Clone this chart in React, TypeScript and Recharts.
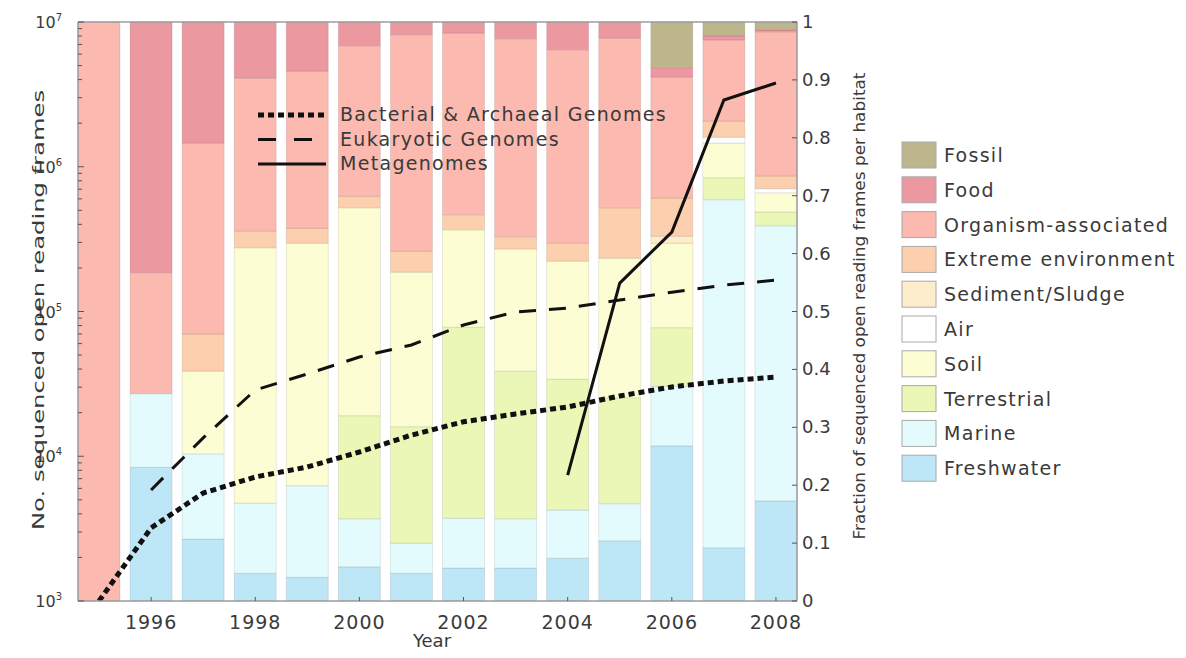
import { ComposedChart, Bar, Line, XAxis, YAxis, ReferenceLine } from 'recharts'

// ── Data ───────────────────────────────────────────────────────────────────

const YEARS = [1995, 1996, 1997, 1998, 1999, 2000, 2001, 2002, 2003, 2004, 2005, 2006, 2007, 2008]

// fraction of sequenced ORFs per habitat (stacked bottom → top)
const FRESHWATER = [0, 0.231, 0.107, 0.048, 0.041, 0.059, 0.048, 0.057, 0.057, 0.074, 0.104, 0.268, 0.092, 0.173]
const MARINE = [0, 0.127, 0.147, 0.121, 0.158, 0.083, 0.052, 0.086, 0.085, 0.083, 0.064, 0.103, 0.601, 0.475]
const TERRESTRIAL = [0, 0, 0, 0, 0, 0.178, 0.201, 0.33, 0.255, 0.226, 0.183, 0.101, 0.038, 0.024]
const SOIL = [0, 0, 0.143, 0.441, 0.419, 0.359, 0.267, 0.168, 0.211, 0.204, 0.241, 0.146, 0.06, 0.033]
const AIR = [0, 0, 0, 0, 0, 0, 0, 0, 0, 0, 0, 0, 0.01, 0.007]
const SEDIMENT = [0, 0, 0, 0, 0, 0, 0, 0, 0, 0, 0, 0.012, 0, 0]
const EXTREME = [0, 0, 0.064, 0.029, 0.026, 0.02, 0.036, 0.026, 0.021, 0.031, 0.087, 0.066, 0.028, 0.022]
const ORGANISM = [1, 0.209, 0.33, 0.264, 0.271, 0.26, 0.374, 0.314, 0.342, 0.334, 0.293, 0.209, 0.14, 0.249]
const FOOD = [0, 0.433, 0.209, 0.097, 0.085, 0.041, 0.022, 0.019, 0.029, 0.048, 0.028, 0.016, 0.007, 0.003]
const FOSSIL = [0, 0, 0, 0, 0, 0, 0, 0, 0, 0, 0, 0.079, 0.024, 0.014]

// number of sequenced ORFs (log scale)
const BACTERIAL = [1000, 3200, 5570, 7190, 8430, 10700, 14000, 17300, 19600, 21900, 26100, 30100, 33100, 35200]
const EUKARYOTIC = [null, 5850, 13400, 28700, 37000, 48500, 58700, 80700, 99300, 105700, 120000, 136000, 152000, 165000]
const METAGENOMES = [null, null, null, null, null, null, null, null, null, 7410, 157000, 354000, 2890000, 3790000]

const HABITATS = [
  { name: 'Freshwater', values: FRESHWATER },
  { name: 'Marine', values: MARINE },
  { name: 'Terrestrial', values: TERRESTRIAL },
  { name: 'Soil', values: SOIL },
  { name: 'Air', values: AIR },
  { name: 'Sediment/Sludge', values: SEDIMENT },
  { name: 'Extreme environment', values: EXTREME },
  { name: 'Organism-associated', values: ORGANISM },
  { name: 'Food', values: FOOD },
  { name: 'Fossil', values: FOSSIL },
]

const SERIES = [
  { key: 'bacterial', name: 'Bacterial & Archaeal Genomes', values: BACTERIAL },
  { key: 'eukaryotic', name: 'Eukaryotic Genomes', values: EUKARYOTIC },
  { key: 'metagenomes', name: 'Metagenomes', values: METAGENOMES },
]

const FRAC_TICKS = [0, 0.1, 0.2, 0.3, 0.4, 0.5, 0.6, 0.7, 0.8, 0.9, 1]
const COUNT_TICKS = [3, 4, 5, 6].flatMap(e => [1, 2, 3, 4, 5, 6, 7, 8, 9].map(m => m * 10 ** e)).concat([1e7])

// ── Styles ─────────────────────────────────────────────────────────────────

const COLORS: Record<string, string> = {
  Fossil: '#bdb68d',
  Food: '#eb98a0',
  'Organism-associated': '#fbb9b0',
  'Extreme environment': '#fcd0ae',
  'Sediment/Sludge': '#fdedcc',
  Air: '#ffffff',
  Soil: '#fdfdd3',
  Terrestrial: '#eaf7b6',
  Marine: '#e3fbfd',
  Freshwater: '#bde6f7',
}

const LINE_STYLE: Record<string, { dash?: string; width: number }> = {
  bacterial: { dash: '6 4', width: 5 },
  eukaryotic: { dash: '17 13', width: 3 },
  metagenomes: { width: 3 },
}

const FONT = '"DejaVu Sans", sans-serif'
const INK = '#3a3a3a'
const FRAME = '#9c9c9c'
const W = 1170
const H = 642

const data = YEARS.map((year, i) => {
  const row: Record<string, number | null> = { year }
  HABITATS.forEach(h => { row[h.name] = h.values[i] })
  SERIES.forEach(s => { row[s.key] = s.values[i] })
  return row
})

// ── Ticks ──────────────────────────────────────────────────────────────────

function CountTick({ x, y, payload }: any) {
  const v = payload.value
  const exp = Math.round(Math.log10(v))
  const major = Math.abs(v - 10 ** exp) < v * 1e-6
  return (
    <g>
      <line x1={x} x2={x + (major ? 6 : 4)} y1={y} y2={y} stroke="#555" />
      {major && (
        <text x={x - 16} y={y + 6} textAnchor="end" fontSize={16} fill={INK} fontFamily={FONT}>
          10<tspan dy={-7} fontSize={10}>{exp}</tspan>
        </text>
      )}
    </g>
  )
}

function FracTick({ x, y, payload }: any) {
  return (
    <g>
      <line x1={x - 5} x2={x} y1={y} y2={y} stroke="#555" />
      <text x={x + 5} y={y + 6} fontSize={18} fill={INK} fontFamily={FONT}>{String(payload.value)}</text>
    </g>
  )
}

function YearTick({ x, y, payload }: any) {
  if (payload.value % 2) return <g />
  return (
    <g>
      <line x1={x} x2={x} y1={y} y2={y - 4} stroke="#555" />
      <text x={x} y={y + 28} textAnchor="middle" fontSize={19} letterSpacing={1} fill={INK} fontFamily={FONT}>
        {payload.value}
      </text>
    </g>
  )
}

// ── Chart ──────────────────────────────────────────────────────────────────

export default function App() {
  return (
    <div style={{ position: 'relative', width: W, height: H, fontFamily: FONT }}>
      <ComposedChart
        width={W}
        height={H}
        data={data}
        margin={{ top: 14, right: 321, bottom: 19, left: 20 }}
        barCategoryGap={5}
      >
        <XAxis
          dataKey="year"
          height={30}
          padding={{ left: -5, right: -5 }}
          interval={0}
          tickSize={0}
          tickMargin={0}
          tick={YearTick}
          axisLine={{ stroke: FRAME, strokeWidth: 1.5 }}
        />
        <YAxis
          yAxisId="count"
          width={50}
          scale="log"
          domain={[1000, 10000000]}
          allowDataOverflow
          ticks={COUNT_TICKS}
          interval={0}
          tickSize={0}
          tickMargin={0}
          tick={CountTick}
          axisLine={{ stroke: FRAME, strokeWidth: 1.5 }}
        />
        <YAxis
          yAxisId="frac"
          orientation="right"
          width={60}
          domain={[0, 1]}
          ticks={FRAC_TICKS}
          interval={0}
          tickSize={0}
          tickMargin={0}
          tick={FracTick}
          axisLine={{ stroke: FRAME, strokeWidth: 1.5 }}
        />
        {HABITATS.map(h => (
          <Bar
            key={h.name}
            yAxisId="frac"
            dataKey={h.name}
            stackId="habitat"
            fill={COLORS[h.name]}
            stroke="rgba(0,0,0,0.09)"
            strokeWidth={1}
            isAnimationActive={false}
          />
        ))}
        <ReferenceLine yAxisId="frac" y={1} stroke={FRAME} strokeWidth={1.5} />
        {SERIES.map(s => (
          <Line
            key={s.key}
            yAxisId="count"
            dataKey={s.key}
            stroke="#111"
            strokeWidth={LINE_STYLE[s.key].width}
            strokeDasharray={LINE_STYLE[s.key].dash}
            dot={false}
            activeDot={false}
            isAnimationActive={false}
          />
        ))}
      </ComposedChart>

      <svg
        width={W}
        height={H}
        style={{ position: 'absolute', left: 0, top: 0, pointerEvents: 'none' }}
      >
        {/* axis titles */}
        <text
          transform="translate(31 302) rotate(-90)"
          textAnchor="middle"
          dominantBaseline="central"
          fontSize={15}
          textLength={440}
          lengthAdjust="spacingAndGlyphs"
          fill={INK}
          fontFamily={FONT}
        >
          No. sequenced open reading frames
        </text>
        <text
          transform="translate(852 298) rotate(-90)"
          textAnchor="middle"
          dominantBaseline="central"
          fontSize={15}
          textLength={467}
          lengthAdjust="spacingAndGlyphs"
          fill={INK}
          fontFamily={FONT}
        >
          Fraction of sequenced open reading frames per habitat
        </text>
        <text x={424} y={639} textAnchor="middle" fontSize={18} fill={INK} fontFamily={FONT}>Year</text>

        {/* line legend */}
        {SERIES.map((s, i) => (
          <g key={s.key}>
            <line
              x1={250}
              x2={318}
              y1={107 + i * 24.5}
              y2={107 + i * 24.5}
              stroke="#111"
              strokeWidth={LINE_STYLE[s.key].width}
              strokeDasharray={s.key === 'eukaryotic' ? '18 18' : LINE_STYLE[s.key].dash}
            />
            <text x={332} y={113 + i * 24.5} fontSize={19} letterSpacing={1.3} fill={INK} fontFamily={FONT}>
              {s.name}
            </text>
          </g>
        ))}

        {/* habitat legend */}
        {[...HABITATS].reverse().map((h, i) => (
          <g key={h.name}>
            <rect x={894} y={134 + i * 34.8} width={34} height={26} fill={COLORS[h.name]} stroke="#aaa" />
            <text x={936} y={154 + i * 34.8} fontSize={19} letterSpacing={1.3} fill={INK} fontFamily={FONT}>
              {h.name}
            </text>
          </g>
        ))}
      </svg>
    </div>
  )
}
